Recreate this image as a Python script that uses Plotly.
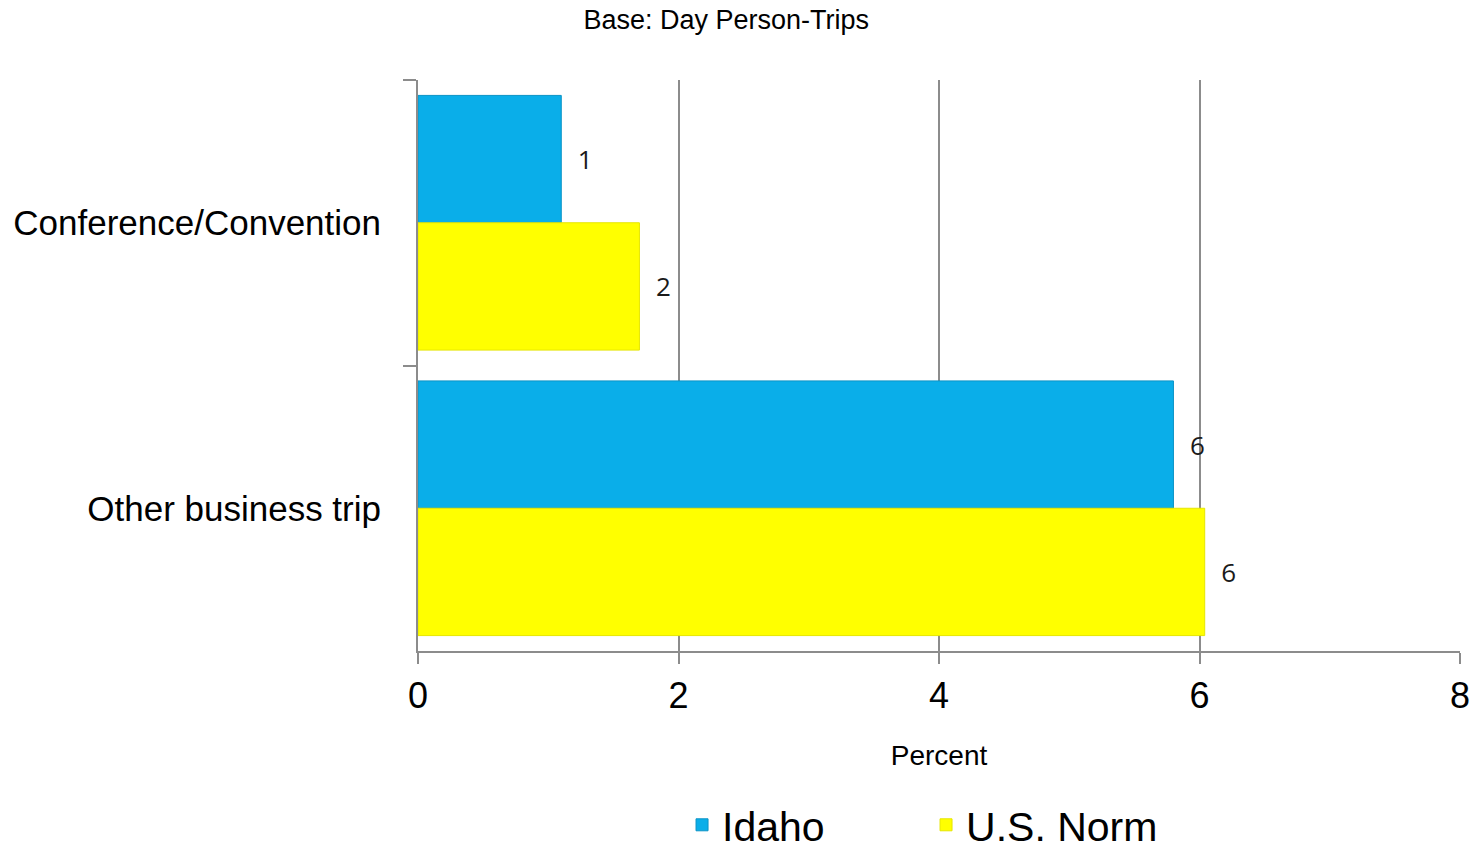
import plotly.graph_objects as go

# Share of day person-trips by business trip purpose (percent)
categories = ["Conference/Convention", "Other business trip"]
idaho = [1.1, 5.8]
us_norm = [1.7, 6.04]

series_names = ["Idaho", "U.S. Norm"]
series_colors = ["#0AAEE9", "#FFFF00"]
series_edges = ["#0A93C6", "#E6E600"]

axis_grey = "#8C8C8C"
label_font = "Liberation Sans, Arial, sans-serif"
value_font = "Open Sans, Noto Sans, sans-serif"

fig = go.Figure()
for name, values, color, edge in zip(series_names, [idaho, us_norm], series_colors, series_edges):
    fig.add_trace(go.Bar(
        name=name,
        y=categories,
        x=values,
        orientation="h",
        marker=dict(color=color, line=dict(color=edge, width=1)),
        texttemplate="\u00a0\u00a0%{x:.0f}",
        textposition="outside",
        textfont=dict(family=value_font, size=26, color="#1a1a1a"),
        cliponaxis=False,
        hoverinfo="x+name",
    ))

fig.update_layout(
    width=1476,
    height=849,
    margin=dict(l=418, r=16, t=80, b=198, autoexpand=False),
    plot_bgcolor="white",
    paper_bgcolor="white",
    barmode="group",
    bargap=0.108,
    bargroupgap=0,
    font=dict(family=label_font, color="black"),
    title=dict(
        text="Base: Day Person-Trips",
        font=dict(family=label_font, size=27, color="black"),
        x=0.492, xanchor="center",
        y=1 - 20 / 849, yanchor="middle",
        xref="container", yref="container",
    ),
    legend=dict(
        orientation="h",
        x=0.2534, xanchor="left",
        y=-0.305, yanchor="middle",
        font=dict(family=label_font, size=41, color="black"),
        entrywidth=199, entrywidthmode="pixels",
        traceorder="normal",
        bgcolor="rgba(0,0,0,0)",
    ),
    showlegend=True,
)

fig.update_xaxes(
    range=[0, 8],
    dtick=2,
    tick0=0,
    automargin=False,
    showgrid=True,
    gridcolor=axis_grey,
    gridwidth=1.5,
    zeroline=False,
    showline=True,
    linecolor=axis_grey,
    linewidth=2,
    ticks="outside",
    ticklen=11,
    tickwidth=2,
    tickcolor=axis_grey,
    tickfont=dict(family=label_font, size=36, color="black"),
    ticklabelstandoff=1,
    title=dict(text="Percent", font=dict(family=label_font, size=28, color="black"), standoff=30),
)

fig.update_yaxes(
    autorange="reversed",
    automargin=False,
    showline=True,
    linecolor=axis_grey,
    linewidth=2,
    ticks="outside",
    tickson="boundaries",
    ticklen=13,
    tickwidth=2,
    tickcolor=axis_grey,
    showgrid=False,
    tickfont=dict(family=label_font, size=35, color="black"),
    ticklabelstandoff=28,
)

fig.write_html("out.html")
